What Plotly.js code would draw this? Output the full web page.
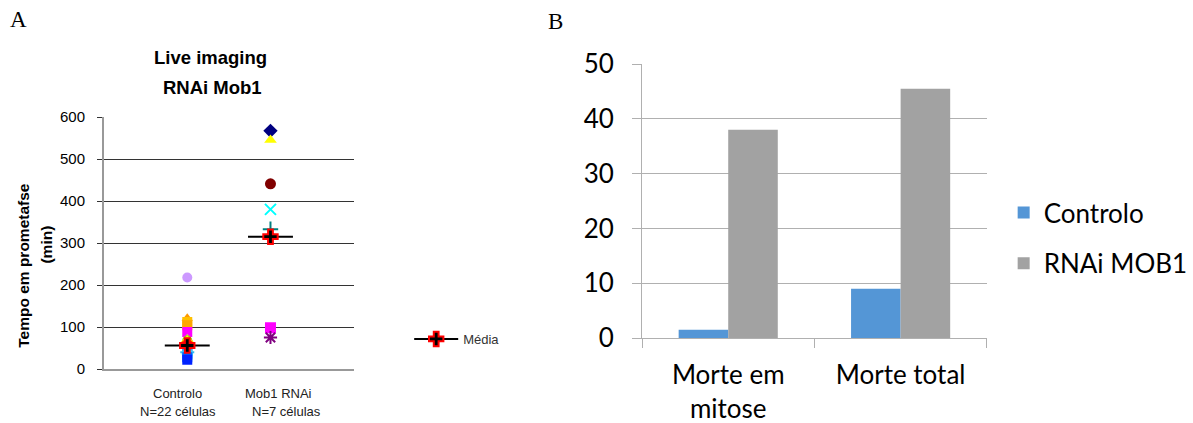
<!DOCTYPE html>
<html>
<head>
<meta charset="utf-8">
<script src="https://cdn.plot.ly/plotly-3.0.1.min.js"></script>
<style>html,body{margin:0;padding:0;background:#fff;}#chart{width:1193px;height:423px;}</style>
</head>
<body>
<div id="chart"></div>
<script>
// ---------- Panel A data ----------
const groupsA = ["Controlo", "Mob1 RNAi"];
const groupNotes = ["N=22 células", "N=7 células"];
const controloValues = [218, 121, 112, 104, 88, 72, 68, 64, 61, 58, 55, 53, 50, 48, 45, 42, 40, 38, 36, 33, 28, 22];
const mob1Values = [567, 545, 441, 380, 333, 98, 75];
const meanValues = [56, 315];
const yTitleLines = ["Tempo em prometafse", "(min)"];

// ---------- Panel B data ----------
const categoriesB = ["Morte em<br>mitose", "Morte total"];
const controloDeath = [1.5, 9];
const rnaiDeath = [38, 45.5];
const seriesB = ["Controlo", "RNAi MOB1"];

// ---------- styles (kept apart from data) ----------
const ctrlColors = ["#cc99ff", "#ff9900", "#ffc000", "#ffa500", "#ff00ff", "#c0e060", "#99cc00", "#ffff00",
  "#ff6600", "#66cc66", "#ff3300", "#00cc99", "#ff9966", "#33cccc", "#00ffff", "#00ccff", "#33bbee",
  "#66ccff", "#3399ff", "#33ccff", "#0066ff", "#0022ff"];
const ctrlSymbols = ["circle", "triangle-up", "square", "square", "square", "triangle-up", "circle", "diamond",
  "circle", "triangle-up", "square", "diamond", "circle", "x-thin-open", "x-thin-open", "square", "cross-thin-open",
  "square", "square", "square", "square", "square"];
const mobColors = ["#000080", "#ffff00", "#800000", "#00ffff", "#008080", "#ff00ff", "#800080"];
const mobSymbols = ["diamond", "triangle-up", "circle", "x-thin-open", "cross-thin-open", "square", "asterisk-open"];

const lineW = s => (s.indexOf("open") >= 0 ? 2 : 0);
const xPos = (vals, idx) => vals.map(() => idx + 1);

const arial = "Liberation Sans, Arial, sans-serif";
const calib = "Lato, Noto Sans, sans-serif";

const traces = [
  {
    type: "scatter", mode: "markers", xaxis: "x", yaxis: "y", showlegend: false,
    x: xPos(controloValues, 0), y: controloValues,
    marker: { size: 10, color: ctrlColors, symbol: ctrlSymbols,
      line: { color: ctrlColors, width: ctrlSymbols.map(lineW) } },
    hoverinfo: "y"
  },
  {
    type: "scatter", mode: "markers", xaxis: "x", yaxis: "y", showlegend: false,
    x: xPos(mob1Values, 1), y: mob1Values,
    marker: { size: 11, color: mobColors, symbol: mobSymbols,
      line: { color: mobColors, width: mobSymbols.map(lineW) } },
    hoverinfo: "y"
  },
  {
    type: "scatter", mode: "lines+markers", xaxis: "x", yaxis: "y", name: "Média", legend: "legend",
    x: [1, null, 2], y: [meanValues[0], null, meanValues[1]],
    connectgaps: false,
    line: { color: "#000", width: 2 },
    error_x: { type: "constant", value: 0.27, width: 0, thickness: 2, color: "#000" },
    marker: { symbol: "cross", size: 12, color: "#000", line: { color: "#ff0000", width: 2 } }
  },
  {
    type: "bar", xaxis: "x2", yaxis: "y2", name: seriesB[0], legend: "legend2", legendgroup: "a",
    x: categoriesB, y: controloDeath,
    marker: { color: "#5496d6", line: { width: 0 } }
  },
  {
    type: "bar", xaxis: "x2", yaxis: "y2", name: seriesB[1], legend: "legend2", legendgroup: "b",
    x: categoriesB, y: rnaiDeath,
    marker: { color: "#a2a2a2", line: { width: 0 } }
  }
];

const annotations = [
  { text: "A", xref: "paper", yref: "paper", x: 19 / 1193, y: 1 - 20 / 423, xanchor: "center", yanchor: "middle",
    showarrow: false, font: { family: "Liberation Serif, Times New Roman, serif", size: 23, color: "#000" } },
  { text: "B", xref: "paper", yref: "paper", x: 561 / 1193, y: 1 - 22 / 423, xanchor: "center", yanchor: "middle",
    showarrow: false, font: { family: "Liberation Serif, Times New Roman, serif", size: 23, color: "#000" } },
  { text: "<b>Live imaging</b>", xref: "paper", yref: "paper", x: 212 / 1193, y: 1 - 58 / 423, xanchor: "center", yanchor: "middle",
    showarrow: false, font: { family: arial, size: 18.5, color: "#000" } },
  { text: "<b>RNAi Mob1</b>", xref: "paper", yref: "paper", x: 214 / 1193, y: 1 - 88 / 423, xanchor: "center", yanchor: "middle",
    showarrow: false, font: { family: arial, size: 18.5, color: "#000" } },
  { text: "<b>" + yTitleLines[0] + "</b>", xref: "paper", yref: "paper", x: 23 / 1193, y: 1 - 265 / 423, textangle: -90,
    xanchor: "center", yanchor: "middle", showarrow: false, font: { family: arial, size: 15.5, color: "#000" } },
  { text: "<b>" + yTitleLines[1] + "</b>", xref: "paper", yref: "paper", x: 47 / 1193, y: 1 - 245 / 423, textangle: -90,
    xanchor: "center", yanchor: "middle", showarrow: false, font: { family: arial, size: 15.5, color: "#000" } }
];
const labelShift = [[-10, -9], [8, 16]];
groupsA.forEach((g, i) => {
  annotations.push({ text: g, xref: "x", yref: "paper", x: i + 1, xshift: labelShift[i][0], y: 1 - 393 / 423,
    xanchor: "center", yanchor: "middle", showarrow: false, font: { family: arial, size: 13, color: "#222" } });
  annotations.push({ text: groupNotes[i], xref: "x", yref: "paper", x: i + 1, xshift: labelShift[i][1], y: 1 - 411 / 423,
    xanchor: "center", yanchor: "middle", showarrow: false, font: { family: arial, size: 13, color: "#222" } });
});

const layout = {
  width: 1193, height: 423, autosize: false,
  margin: { l: 0, r: 0, t: 0, b: 0 },
  paper_bgcolor: "#fff", plot_bgcolor: "rgba(0,0,0,0)",
  showlegend: true,
  barmode: "group", bargap: 0.425, bargroupgap: 0,
  xaxis: {
    domain: [105 / 1193, 357 / 1193], range: [0, 3], anchor: "y",
    showticklabels: false, ticks: "", showgrid: false, zeroline: false,
    showline: true, linecolor: "#999", linewidth: 2, fixedrange: true
  },
  yaxis: {
    domain: [(423 - 369) / 423, (423 - 117) / 423], range: [0, 600], dtick: 100, anchor: "x",
    showgrid: true, gridcolor: "#333", gridwidth: 1, zeroline: false,
    showline: true, linecolor: "#999", linewidth: 2,
    ticks: "outside", ticklen: 5, tickcolor: "#333", ticklabelstandoff: 9,
    tickfont: { family: arial, size: 15, color: "#000" }
  },
  xaxis2: {
    domain: [648 / 1193, 996 / 1193], type: "category", anchor: "y2",
    ticks: "outside", tickson: "boundaries", ticklen: 9, tickcolor: "#b0b0b0", ticklabelstandoff: 14,
    showline: true, linecolor: "#b0b0b0", linewidth: 1, showgrid: false,
    tickfont: { family: calib, size: 26, color: "#000" }
  },
  yaxis2: {
    domain: [(423 - 338) / 423, (423 - 64) / 423], range: [0, 50], dtick: 10, anchor: "x2",
    showgrid: true, gridcolor: "#b0b0b0", gridwidth: 1, zeroline: false,
    showline: true, linecolor: "#b0b0b0", linewidth: 1,
    ticks: "outside", ticklen: 9, tickcolor: "#b0b0b0", ticklabelstandoff: 13,
    tickfont: { family: calib, size: 26, color: "#000" }
  },
  legend: {
    x: 413 / 1193, y: 1 - 339 / 423, xanchor: "left", yanchor: "middle", itemwidth: 44,
    font: { family: arial, size: 13, color: "#333" }, bgcolor: "rgba(0,0,0,0)"
  },
  legend2: {
    x: 1013 / 1193, y: 1 - 238 / 423, xanchor: "left", yanchor: "middle",
    traceorder: "grouped", tracegroupgap: 14, itemwidth: 30,
    font: { family: calib, size: 26, color: "#000" }, bgcolor: "rgba(0,0,0,0)"
  },
  annotations: annotations
};

Plotly.newPlot("chart", traces, layout, { displayModeBar: false, staticPlot: true });
</script>
</body>
</html>
